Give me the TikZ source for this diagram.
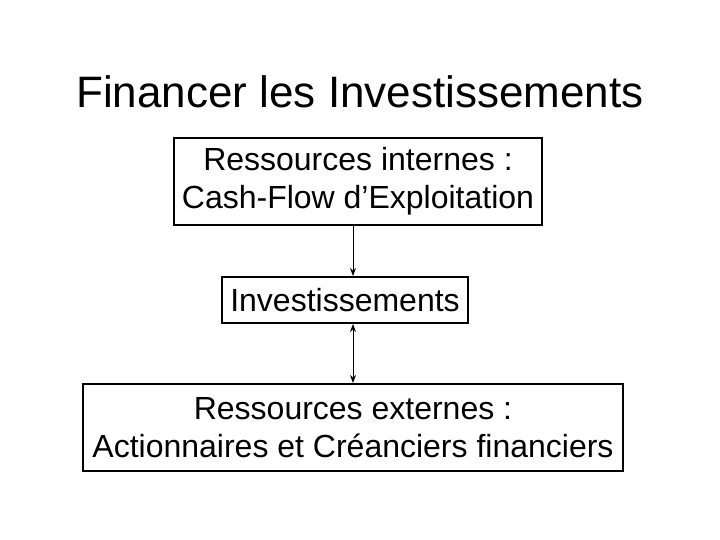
\documentclass[tikz,border=0pt]{standalone}
\usepackage{fontspec}
\setmainfont{Liberation Sans}
\usepackage{xcolor}
\usepackage{tikz}
\usetikzlibrary{arrows.meta,positioning,calc}
\definecolor{fiblack}{HTML}{000000}
\tikzset{
  bx/.style    = {rectangle, draw=fiblack, line width=2pt, fill=white,
                  font=\fontsize{32}{38}\selectfont, align=center,
                  inner sep=0pt},
  ttl/.style   = {font=\fontsize{44}{50}\selectfont, inner sep=0pt, anchor=base},
  ed/.style    = {-{Stealth[length=8pt,width=6pt]}, draw=fiblack, line width=1pt},
  edd/.style   = {{Stealth[length=8pt,width=6pt]}-{Stealth[length=8pt,width=6pt]},
                  draw=fiblack, line width=1pt},
}
\begin{document}
\begin{tikzpicture}[x=1pt,y=-1pt]
  \useasboundingbox (0,0) rectangle (720,540);
  \node[ttl] (titre) at (360,108) {Financer les Investissements};
  \node[bx, minimum width=368pt, minimum height=87pt] (rint) at (358,181.5)
    {Ressources internes :\\Cash-Flow d’Exploitation};
  \node[bx, minimum width=246pt, minimum height=46pt] (inv) at (345,300)
    {Investissements};
  \node[bx, minimum width=540pt, minimum height=87pt] (rext) at (353,427.5)
    {Ressources externes :\\Actionnaires et Créanciers financiers};
  \draw[ed] (rint.south -| rext.north) -- (inv.north -| rext.north);
  \draw[edd] (inv.south -| rext.north) -- (rext.north);
\end{tikzpicture}
\end{document}
